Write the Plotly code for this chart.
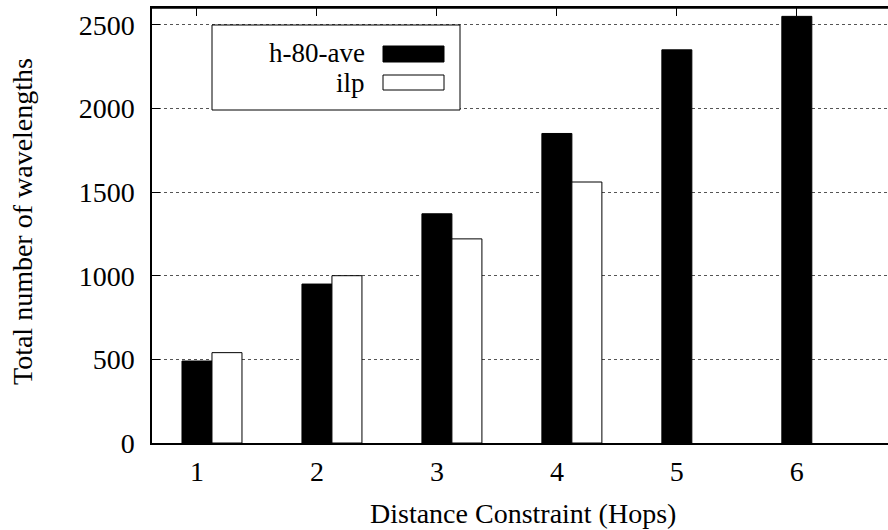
import plotly.graph_objects as go

hops = [1, 2, 3, 4, 5, 6]
h80_ave = [490, 950, 1370, 1850, 2350, 2550]
ilp = [540, 1000, 1220, 1560, None, None]
y_ticks = [0, 500, 1000, 1500, 2000, 2500]

FONT = "Liberation Serif"
FS = 28

# plot area in pixels
L, R, T, B = 152, 888, 8, 443
W, H = 888, 530


def px(x):
    return (x - L) / (R - L)


def py(y):
    return (B - y) / (B - T)


fig = go.Figure()
fig.add_trace(go.Bar(x=hops, y=h80_ave, name="h-80-ave", width=0.25, offset=-0.125,
                     marker=dict(color="black", line=dict(color="black", width=1))))
fig.add_trace(go.Bar(x=hops, y=ilp, name="ilp", width=0.25, offset=0.125,
                     marker=dict(color="white", line=dict(color="black", width=1))))

shapes = [
    # top border
    dict(type="line", xref="paper", yref="paper", x0=0, x1=1, y0=1, y1=1,
         line=dict(color="black", width=1.5)),
    # legend box
    dict(type="rect", xref="paper", yref="paper", x0=px(212), x1=px(460), y0=py(110), y1=py(25),
         line=dict(color="black", width=1), fillcolor="white", layer="above"),
    dict(type="rect", xref="paper", yref="paper", x0=px(383), x1=px(444), y0=py(62), y1=py(46),
         line=dict(color="black", width=1), fillcolor="black", layer="above"),
    dict(type="rect", xref="paper", yref="paper", x0=px(383), x1=px(444), y0=py(90), y1=py(75),
         line=dict(color="black", width=1), fillcolor="white", layer="above"),
]
tfont = dict(family=FONT, size=FS, color="black")
lfont = dict(family=FONT, size=27, color="black")
annotations = [
    dict(text="h-80-ave", xref="paper", yref="paper", x=px(367), y=py(53), xanchor="right",
         yanchor="middle", showarrow=False, font=lfont),
    dict(text="ilp", xref="paper", yref="paper", x=px(367), y=py(83), xanchor="right",
         yanchor="middle", showarrow=False, font=lfont),
    dict(text="Distance Constraint (Hops)", xref="paper", yref="paper", x=px(523), y=py(513),
         xanchor="center", yanchor="middle", showarrow=False, font=tfont),
    dict(text="Total number of wavelengths", xref="paper", yref="paper", x=px(22), y=py(222),
         xanchor="center", yanchor="middle", showarrow=False, textangle=-90, font=tfont),
]

fig.update_layout(
    width=W, height=H,
    margin=dict(l=L, r=W - R, t=T, b=H - B, autoexpand=False),
    paper_bgcolor="white", plot_bgcolor="white",
    barmode="overlay",
    showlegend=False,
    font=dict(family=FONT, size=FS, color="black"),
    shapes=shapes,
    annotations=annotations,
    xaxis=dict(
        range=[0.625, 6.76], tickvals=hops, ticktext=[str(h) for h in hops],
        showline=True, linecolor="black", linewidth=1.5, mirror="ticks",
        ticks="inside", ticklen=8, tickcolor="black", tickwidth=1,
        showgrid=False, zeroline=False, ticklabelstandoff=3, automargin=False,
        tickfont=dict(family=FONT, size=FS),
    ),
    yaxis=dict(
        range=[0, 2600], tickvals=y_ticks,
        showline=True, linecolor="black", linewidth=1.5,
        ticks="inside", ticklen=8, tickcolor="black", tickwidth=1,
        showgrid=True, gridcolor="#555555", griddash="dot", gridwidth=1,
        zeroline=False, ticklabelstandoff=10, automargin=False,
        tickfont=dict(family=FONT, size=FS),
    ),
)

fig.write_html("out.html", config={"displayModeBar": False},
               post_script="document.body.style.margin='0';document.body.style.padding='0';")
